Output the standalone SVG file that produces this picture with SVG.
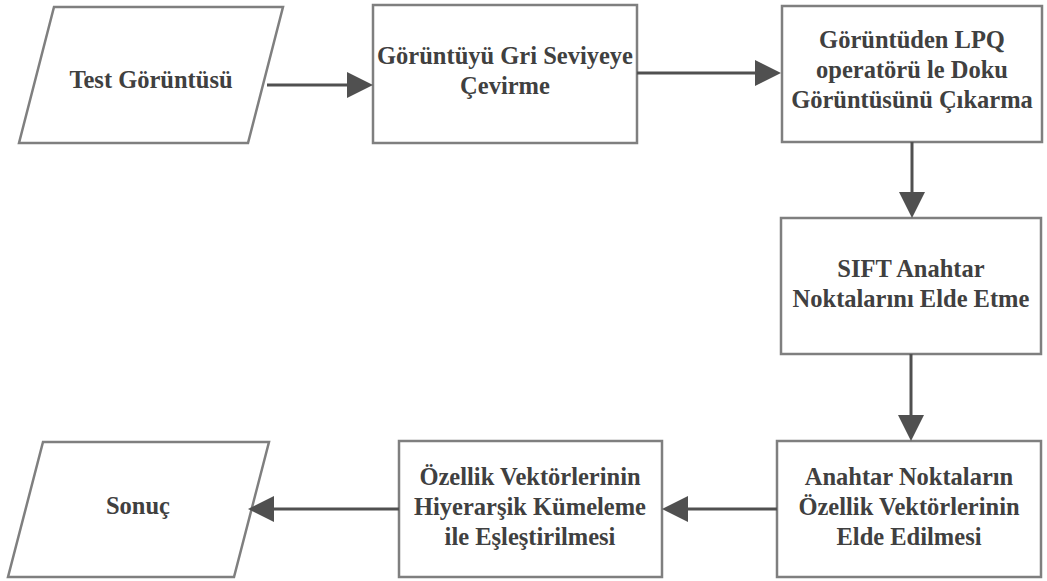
<svg xmlns="http://www.w3.org/2000/svg" width="1047" height="581" viewBox="0 0 1047 581">
  <style>
    .shape { fill: #ffffff; stroke: #7f7f7f; stroke-width: 2.5; }
    .label { font-family: "Liberation Serif", "Times New Roman", serif; font-weight: bold; font-size: 24.5px; fill: #404040; text-anchor: middle; }
    .wire { stroke: #505050; stroke-width: 3; fill: none; }
    .head { fill: #505050; }
  </style>
  <rect width="1047" height="581" fill="#ffffff"/>

  <g id="test-image">
    <polygon class="shape" points="54,7 283,7 248,143 19,143"/>
    <text class="label" x="151" y="88">Test Görüntüsü</text>
  </g>

  <g id="to-grayscale">
    <rect class="shape" x="373" y="5" width="264" height="138"/>
    <text class="label" x="505" y="64">Görüntüyü Gri Seviyeye</text>
    <text class="label" x="505" y="94">Çevirme</text>
  </g>

  <g id="lpq-texture">
    <rect class="shape" x="782" y="6" width="260" height="136"/>
    <text class="label" x="912" y="48">Görüntüden LPQ</text>
    <text class="label" x="912" y="78">operatörü le Doku</text>
    <text class="label" x="912" y="108">Görüntüsünü Çıkarma</text>
  </g>

  <g id="sift-keypoints">
    <rect class="shape" x="781" y="218" width="260" height="136"/>
    <text class="label" x="911" y="277">SIFT Anahtar</text>
    <text class="label" x="911" y="307">Noktalarını Elde Etme</text>
  </g>

  <g id="feature-vectors">
    <rect class="shape" x="777" y="441" width="264" height="136"/>
    <text class="label" x="909" y="485">Anahtar Noktaların</text>
    <text class="label" x="909" y="515">Özellik Vektörlerinin</text>
    <text class="label" x="909" y="545">Elde Edilmesi</text>
  </g>

  <g id="hierarchical-matching">
    <rect class="shape" x="399" y="441" width="263" height="136"/>
    <text class="label" x="530" y="485">Özellik Vektörlerinin</text>
    <text class="label" x="530" y="515">Hiyerarşik Kümeleme</text>
    <text class="label" x="530" y="545">ile Eşleştirilmesi</text>
  </g>

  <g id="result">
    <polygon class="shape" points="43,442 269,442 234,577 8,577"/>
    <text class="label" x="138" y="514">Sonuç</text>
  </g>

  <g id="connectors">
    <line class="wire" x1="267" y1="85" x2="347" y2="85"/>
    <polygon class="head" points="373,85 347,72 347,98"/>

    <line class="wire" x1="637" y1="73" x2="755" y2="73"/>
    <polygon class="head" points="781,73 755,60 755,86"/>

    <line class="wire" x1="912" y1="142" x2="912" y2="192"/>
    <polygon class="head" points="912,218 899,192 925,192"/>

    <line class="wire" x1="911" y1="354" x2="911" y2="415"/>
    <polygon class="head" points="911,441 898,415 924,415"/>

    <line class="wire" x1="777" y1="509" x2="688" y2="509"/>
    <polygon class="head" points="662,509 688,496 688,522"/>

    <line class="wire" x1="399" y1="509" x2="274" y2="509"/>
    <polygon class="head" points="248,509 274,496 274,522"/>
  </g>
</svg>
